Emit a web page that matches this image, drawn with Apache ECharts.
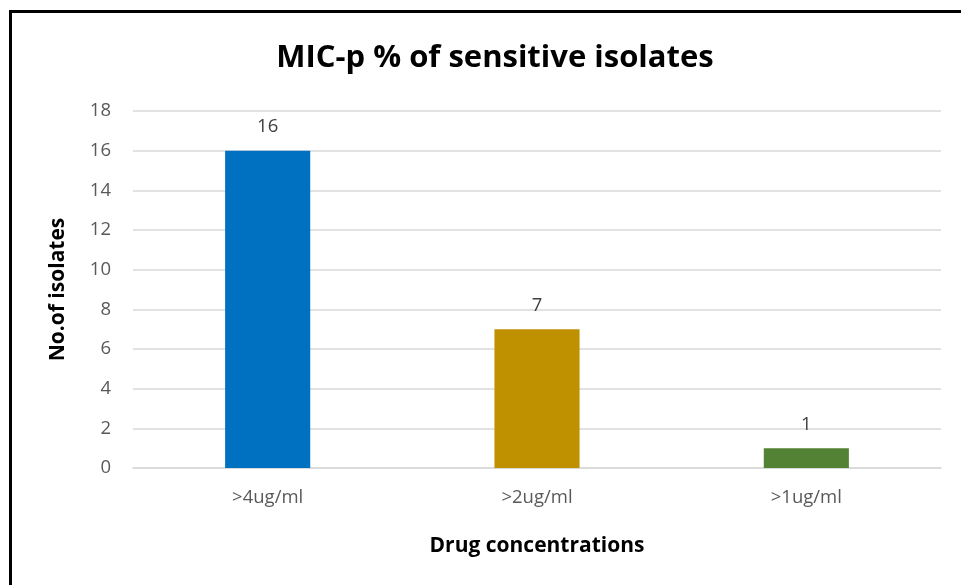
<!DOCTYPE html>
<html>
<head>
<meta charset="utf-8">
<script src="https://cdn.jsdelivr.net/npm/echarts@6/dist/echarts.min.js"></script>
<style>
  html, body { margin: 0; padding: 0; background: #fff; }
  #chart { width: 961px; height: 585px; }
</style>
</head>
<body>
<div id="chart"></div>
<script>
// Drug concentration categories and number of sensitive isolates
const categories = ['>4ug/ml', '>2ug/ml', '>1ug/ml'];
const isolateCounts = [16, 7, 1];
const barColors = ['#0070C0', '#BF9000', '#548235'];

const FONT = '"Open Sans", "Noto Sans", sans-serif';

const chart = echarts.init(document.getElementById('chart'), null, { renderer: 'canvas' });

chart.setOption({
  animation: false,
  backgroundColor: '#ffffff',
  title: {
    text: 'MIC-p % of sensitive isolates',
    left: 490,
    top: 38,
    textAlign: 'center',
    textStyle: { fontFamily: FONT, fontWeight: 'bold', fontSize: 31, color: '#000' }
  },
  graphic: [{
    type: 'rect',
    shape: { x: 10.5, y: 11.5, width: 1200, height: 1200 },
    style: { fill: 'none', stroke: '#000', lineWidth: 3 },
    silent: true
  }],
  grid: { left: 133, right: 20, top: 111, bottom: 117 },
  xAxis: {
    type: 'category',
    data: categories,
    name: 'Drug concentrations',
    nameLocation: 'middle',
    nameGap: 68,
    nameTextStyle: { fontFamily: FONT, fontWeight: 'bold', fontSize: 21, color: '#000' },
    axisLine: { show: true, lineStyle: { color: '#d9d9d9', width: 1.5 } },
    axisTick: { show: false },
    axisLabel: { fontFamily: FONT, fontSize: 18.5, color: '#595959', margin: 20 }
  },
  yAxis: {
    type: 'value',
    min: 0,
    max: 18,
    interval: 2,
    name: 'No.of isolates',
    nameLocation: 'middle',
    nameGap: 64,
    nameTextStyle: { fontFamily: FONT, fontWeight: 'bold', fontSize: 21, color: '#000' },
    axisLine: { show: false },
    axisTick: { show: false },
    axisLabel: { fontFamily: FONT, fontSize: 18.5, color: '#595959', margin: 22 },
    splitLine: { lineStyle: { color: '#d9d9d9', width: 1.5 } }
  },
  series: [{
    type: 'bar',
    barWidth: '31.6%',
    data: isolateCounts.map((v, i) => ({ value: v, itemStyle: { color: barColors[i] } })),
    label: {
      show: true,
      position: 'top',
      distance: 14,
      fontFamily: FONT,
      fontSize: 18.5,
      color: '#404040'
    }
  }]
});
</script>
</body>
</html>
